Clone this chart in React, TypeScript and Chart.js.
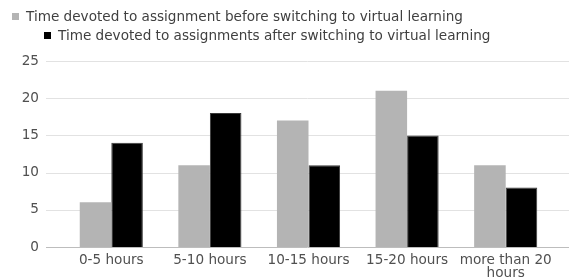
import React, { useEffect, useRef } from "react";
import { Chart, registerables } from "chart.js";

Chart.register(...registerables);

const categories: (string | string[])[] = ["0-5 hours", "5-10 hours", "10-15 hours", "15-20 hours", ["more than 20", "hours"]];
const beforeValues = [6, 11, 17, 21, 11];
const afterValues = [14, 18, 11, 15, 8];
const seriesLabels = [
  "Time devoted to assignment before switching to virtual learning",
  "Time devoted to assignments after switching to virtual learning",
];
const seriesColors = ["#b4b4b4", "#000000"];
const yTicks = [0, 5, 10, 15, 20, 25];

const FONT = "DejaVu Sans";
const FSIZE = 13.6;

const gridPlugin = {
  id: "extendedGrid",
  beforeDatasetsDraw(chart: any) {
    const { ctx, chartArea, scales } = chart;
    ctx.save();
    ctx.lineWidth = 1;
    for (const v of yTicks) {
      const y = Math.round(scales.y.getPixelForValue(v)) + 0.5;
      ctx.strokeStyle = v === 0 ? "#bdbdbd" : "#e2e2e2";
      ctx.beginPath();
      ctx.moveTo(chartArea.left - 16, y);
      ctx.lineTo(chartArea.right + 14, y);
      ctx.stroke();
    }
    ctx.restore();
  },
};

export default function App() {
  const ref = useRef<HTMLCanvasElement>(null);
  useEffect(() => {
    document.body.style.margin = "0";
    const ctx = ref.current!;
    const chart = new Chart(ctx, {
      type: "bar",
      data: {
        labels: categories,
        datasets: [
          {
            label: seriesLabels[0],
            data: beforeValues,
            backgroundColor: seriesColors[0],
            borderWidth: 0,
          },
          {
            label: seriesLabels[1],
            data: afterValues,
            backgroundColor: seriesColors[1],
            borderColor: "#3a3a3a",
            borderWidth: 1,
          },
        ],
      },
      options: {
        animation: false,
        responsive: false,
        maintainAspectRatio: false,
        layout: { padding: { left: 0, right: 14, top: 61, bottom: 1 } },
        plugins: {
          tooltip: { enabled: false },
          legend: { display: false },
        },
        scales: {
          x: {
            afterFit: (s: any) => {
              s.height = 31;
            },
            grid: { display: false, drawTicks: false, tickLength: 0 },
            border: { display: false },
            ticks: {
              font: { family: FONT, size: FSIZE, lineHeight: 0.96 },
              color: "#505050",
              maxRotation: 0,
              autoSkip: false,
              padding: 7,
            },
          },
          y: {
            min: 0,
            max: 25,
            afterFit: (s: any) => {
              s.width = 62;
            },
            ticks: {
              stepSize: 5,
              font: { family: FONT, size: FSIZE },
              color: "#505050",
              padding: 23,
            },
            grid: { display: false, drawTicks: false },
            border: { display: false },
          },
        },
        datasets: { bar: { categoryPercentage: 0.64, barPercentage: 1 } },
      } as any,
      plugins: [gridPlugin],
    });
    return () => chart.destroy();
  }, []);

  const legendRow = (i: number, left: number, top: number) => (
    <div
      key={i}
      style={{
        position: "absolute",
        left,
        top,
        display: "flex",
        alignItems: "center",
        whiteSpace: "nowrap",
        fontFamily: FONT,
        fontSize: FSIZE,
        color: "#404040",
        lineHeight: "16px",
      }}
    >
      <span
        style={{
          display: "inline-block",
          width: 7,
          height: 7,
          background: seriesColors[i],
          marginRight: 7,
        }}
      />
      <span>{seriesLabels[i]}</span>
    </div>
  );

  return (
    <div style={{ position: "relative", width: 569, height: 279 }}>
      <canvas ref={ref} width={569} height={279} style={{ display: "block" }} />
      {legendRow(0, 12, 8)}
      {legendRow(1, 44, 27)}
    </div>
  );
}
